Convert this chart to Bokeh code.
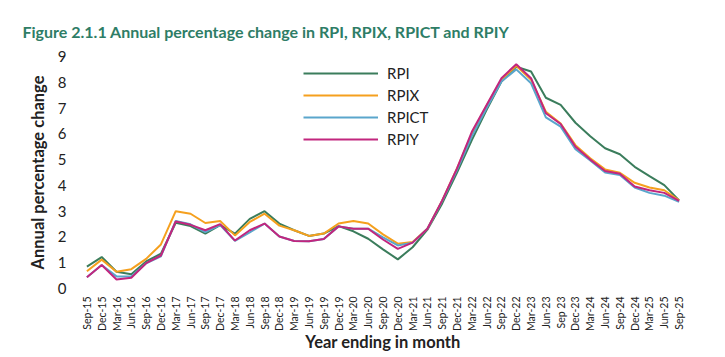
import math
from bokeh.plotting import figure
from bokeh.models import Legend, LegendItem, ColumnDataSource, FactorRange, Range1d, FixedTicker
from bokeh.embed import file_html
from bokeh.resources import INLINE

months = ["Sep-15", "Dec-15", "Mar-16", "Jun-16", "Sep-16", "Dec-16", "Mar-17", "Jun-17",
          "Sep-17", "Dec-17", "Mar-18", "Jun-18", "Sep-18", "Dec-18", "Mar-19", "Jun-19",
          "Sep-19", "Dec-19", "Mar-20", "Jun-20", "Sep-20", "Dec-20", "Mar-21", "Jun-21",
          "Sep-21", "Dec-21", "Mar-22", "Jun-22", "Sep-22", "Dec-22", "Mar-23", "Jun-23",
          "Sep 23", "Dec-23", "Mar-24", "Jun-24", "Sep-24", "Dec-24", "Mar-25", "Jun-25",
          "Sep-25"]

rpi = [0.85, 1.22, 0.65, 0.55, 1.05, 1.35, 2.55, 2.42, 2.13, 2.46, 2.13, 2.70, 3.00, 2.52,
       2.26, 2.04, 2.13, 2.42, 2.22, 1.93, 1.52, 1.13, 1.60, 2.28, 3.30, 4.50, 5.76, 6.93,
       8.03, 8.60, 8.42, 7.40, 7.12, 6.43, 5.91, 5.44, 5.21, 4.72, 4.36, 4.01, 3.42]
rpix = [0.67, 1.12, 0.65, 0.75, 1.15, 1.71, 3.00, 2.90, 2.54, 2.62, 2.06, 2.58, 2.90, 2.44,
        2.26, 2.04, 2.13, 2.52, 2.62, 2.52, 2.10, 1.74, 1.80, 2.32, 3.42, 4.66, 6.00, 7.10,
        8.10, 8.64, 8.10, 6.86, 6.40, 5.56, 5.05, 4.62, 4.49, 4.10, 3.92, 3.81, 3.42]
rpict = [0.44, 0.91, 0.47, 0.47, 0.98, 1.25, 2.62, 2.49, 2.19, 2.46, 1.85, 2.18, 2.52, 2.02,
         1.84, 1.83, 1.92, 2.41, 2.32, 2.32, 1.98, 1.67, 1.78, 2.32, 3.40, 4.60, 5.90, 7.00,
         8.03, 8.50, 7.96, 6.64, 6.28, 5.40, 4.97, 4.50, 4.40, 3.92, 3.71, 3.60, 3.36]
rpiy = [0.44, 0.91, 0.35, 0.42, 0.98, 1.28, 2.60, 2.47, 2.26, 2.50, 1.86, 2.26, 2.52, 2.02,
        1.84, 1.83, 1.92, 2.41, 2.32, 2.32, 1.90, 1.54, 1.78, 2.32, 3.42, 4.66, 6.08, 7.12,
        8.16, 8.70, 8.16, 6.80, 6.38, 5.50, 5.00, 4.56, 4.45, 3.96, 3.81, 3.71, 3.40]

series_names = ["RPI", "RPIX", "RPICT", "RPIY"]
series_values = [rpi, rpix, rpict, rpiy]
series_colors = ["#3b7d5c", "#f5a01e", "#5aa6cc", "#c2267e"]
y_ticks = list(range(0, 10))

FONT = "Lato"

p = figure(frame_width=607, frame_height=232,
           x_range=FactorRange(factors=months),
           y_range=Range1d(0, 9),
           output_backend="svg", toolbar_location=None,
           min_border_left=79, min_border_right=23,
           min_border_top=56, min_border_bottom=50)

p.title.text = "Figure 2.1.1 Annual percentage change in RPI, RPIX, RPICT and RPIY"
p.title.text_font = FONT
p.title.text_font_size = "16px"
p.title.text_font_style = "bold"
p.title.text_color = "#2e7d66"
p.title.align = "left"
p.title.offset = -57
p.title.standoff = 32

p.outline_line_color = None
p.xgrid.grid_line_color = None
p.ygrid.grid_line_color = None
p.background_fill_color = "white"

items = []
for name, vals, col in zip(series_names, series_values, series_colors):
    src = ColumnDataSource(dict(x=months, y=vals))
    r = p.line("x", "y", source=src, line_color=col, line_width=2)
    items.append(LegendItem(label=name, renderers=[r]))

legend = Legend(items=items, location=(224, 139))
legend.glyph_width = 75
legend.glyph_height = 20
legend.label_height = 20
legend.spacing = 2
legend.padding = 0
legend.margin = 0
legend.label_standoff = 9
legend.label_text_font = FONT
legend.label_text_font_size = "15px"
legend.label_text_color = "#222222"
legend.border_line_color = None
legend.background_fill_alpha = 0
p.add_layout(legend, "center")

yax = p.yaxis[0]
yax.ticker = FixedTicker(ticks=y_ticks)
yax.axis_line_color = None
yax.major_tick_line_color = None
yax.minor_tick_line_color = None
yax.major_label_text_font = FONT
yax.major_label_text_font_size = "15px"
yax.major_label_text_color = "#222222"
yax.major_label_standoff = 7
yax.axis_label = "Annual percentage change"
yax.axis_label_text_font = FONT
yax.axis_label_text_font_size = "16.5px"
yax.axis_label_text_font_style = "bold"
yax.axis_label_text_color = "#222222"
yax.axis_label_standoff = 7

xax = p.xaxis[0]
xax.axis_line_color = None
xax.major_tick_line_color = None
xax.minor_tick_line_color = None
xax.major_label_orientation = math.pi / 2
xax.major_label_text_font = FONT
xax.major_label_text_font_size = "10.5px"
xax.major_label_text_color = "#222222"
xax.major_label_standoff = 2
xax.axis_label = "Year ending in month"
xax.axis_label_text_font = FONT
xax.axis_label_text_font_size = "16.5px"
xax.axis_label_text_font_style = "bold"
xax.axis_label_text_color = "#222222"
xax.axis_label_standoff = -2

open("out.html", "w").write(file_html(p, INLINE))
